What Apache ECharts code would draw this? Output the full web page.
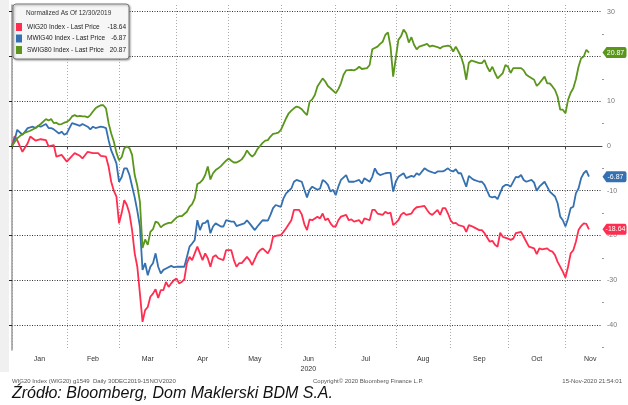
<!DOCTYPE html>
<html>
<head>
<meta charset="utf-8">
<script src="https://cdn.jsdelivr.net/npm/echarts@6/dist/echarts.min.js"></script>
<style>
  html, body { margin: 0; padding: 0; background: #fff; }
  #chart { width: 628px; height: 405px; }
</style>
</head>
<body>
<div id="chart"></div>
<script>
// x = trading day counted from 30 Dec 2019, y = % change (normalized at 12/30/2019)
const dayMax = 226;
const monthNames = ['Jan', 'Feb', 'Mar', 'Apr', 'May', 'Jun', 'Jul', 'Aug', 'Sep', 'Oct', 'Nov'];
const monthMid = [10.5, 31, 52, 73, 93, 113.5, 135.5, 157.5, 179, 201, 221.5];
const monthEdge = [0, 21, 41, 63, 83, 103, 124, 147, 168, 190, 212];
const yTicks = [-40, -30, -20, -10, 0, 10, 20, 30];
const yMinor = [-45, -35, -25, -15, -5, 5, 15, 25];

const names = ['WIG20 Index - Last Price', 'MWIG40 Index - Last Price', 'SWIG80 Index - Last Price'];
const lastPrices = [-18.64, -6.87, 20.87];
const colors = ['#ff2d4f', '#3570b0', '#5b961c'];

const wig20 = [[0,0],[1,2.2],[2,1.3],[4,-1.3],[6,0.6],[7,2.1],[9,1.2],[11,1.5],[13,1.3],[14,-0.1],[16,0.2],[17,-2.4],[19,-2.0],[21,-3.5],[24,-1.6],[26,-2.2],[27,-2.8],[29,-1.3],[31,-1.6],[33,-1.6],[34,-2.2],[36,-2.4],[37,-4.6],[38,-8.0],[39,-10.0],[40,-11.3],[41,-17.3],[42,-15.0],[43,-12.1],[44,-13.2],[45,-15.1],[46,-18.8],[47,-24.0],[48,-27.0],[49,-33.0],[50,-39.3],[51,-36.7],[52,-36.0],[53,-33.7],[54,-33.0],[55,-32.0],[56,-34.0],[57,-32.2],[58,-32.2],[59,-30.4],[60,-31.5],[61,-30.7],[62,-30.0],[63,-29.6],[64,-30.7],[65,-30.4],[66,-29.8],[67,-26.2],[68,-24.8],[69,-25.5],[70,-24.0],[71,-22.5],[72,-24.0],[73,-25.5],[74,-24.0],[75,-25.1],[76,-27.0],[77,-24.8],[78,-24.4],[79,-25.1],[81,-25.5],[82,-23.3],[84,-23.3],[85,-25.5],[86,-27.0],[87,-26.2],[88,-26.2],[90,-24.8],[91,-25.5],[92,-26.6],[94,-24.0],[95,-23.3],[96,-22.9],[98,-24.0],[99,-22.9],[100,-20.3],[101,-20.1],[103,-19.9],[104,-19.2],[105,-18.4],[107,-16.6],[108,-14.3],[109,-14.3],[110,-14.3],[111,-15.3],[112,-17.5],[113,-18.8],[114,-16.4],[115,-16.6],[117,-15.8],[118,-16.2],[119,-15.1],[120,-16.6],[121,-16.2],[122,-17.3],[123,-18.0],[124,-18.0],[125,-16.6],[126,-15.8],[128,-15.4],[129,-16.6],[130,-16.4],[131,-16.9],[133,-16.6],[134,-17.4],[135,-16.2],[137,-16.6],[138,-14.3],[139,-14.3],[140,-15.1],[142,-15.4],[143,-14.7],[144,-15.1],[145,-14.9],[146,-17.7],[147,-17.2],[148,-16.6],[149,-15.4],[150,-14.9],[151,-15.4],[153,-15.1],[154,-14.2],[155,-13.7],[156,-13.6],[158,-13.4],[159,-14.3],[160,-15.1],[161,-15.4],[163,-14.3],[164,-15.4],[165,-13.9],[166,-13.9],[167,-15.1],[168,-16.6],[169,-17.3],[170,-17.2],[171,-17.7],[173,-18.0],[174,-19.2],[175,-17.7],[176,-17.9],[177,-18.2],[179,-18.8],[180,-18.8],[181,-19.5],[183,-21.4],[184,-21.2],[185,-22.1],[186,-22.5],[187,-19.4],[188,-20.3],[190,-20.7],[191,-21.0],[192,-20.7],[193,-19.5],[195,-19.2],[196,-20.3],[197,-21.4],[198,-22.5],[200,-22.9],[201,-24.2],[202,-22.9],[203,-23.1],[205,-22.9],[206,-23.4],[207,-23.6],[208,-24.4],[209,-25.9],[211,-28.1],[212,-29.4],[213,-27.0],[214,-24.0],[215,-23.3],[216,-21.4],[217,-18.8],[218,-17.9],[219,-17.3],[220,-17.4],[221,-18.64]];

const mwig40 = [[0,0],[1,1.3],[2,3.6],[4,2.5],[5,3.2],[6,4.0],[8,4.3],[9,4.0],[10,4.5],[11,4.3],[13,4.9],[14,4.0],[15,4.0],[16,3.7],[18,2.8],[19,3.2],[20,2.5],[21,2.8],[22,4.0],[23,5.1],[25,4.7],[26,4.5],[27,4.9],[29,4.3],[30,3.7],[31,4.3],[32,4.0],[34,4.3],[35,4.2],[36,4.0],[37,1.3],[38,-1.0],[39,-2.4],[40,-3.9],[41,-8.0],[42,-7.0],[43,-5.0],[44,-5.0],[45,-6.5],[46,-9.0],[47,-11.5],[48,-14.5],[49,-18.0],[50,-27.7],[51,-26.2],[52,-28.9],[53,-27.0],[54,-26.2],[55,-24.0],[56,-27.0],[57,-28.5],[58,-27.7],[59,-27.4],[61,-26.8],[62,-27.1],[63,-27.0],[64,-27.0],[66,-27.0],[67,-24.8],[68,-22.5],[69,-21.8],[70,-21.0],[71,-16.6],[72,-18.8],[73,-17.3],[74,-17.2],[75,-16.6],[76,-19.5],[77,-18.0],[78,-17.3],[80,-18.0],[81,-18.0],[82,-16.6],[84,-16.9],[85,-16.9],[86,-17.9],[87,-17.7],[89,-17.3],[90,-16.6],[91,-17.3],[93,-18.8],[94,-18.0],[95,-17.3],[96,-16.6],[98,-16.7],[99,-15.4],[100,-13.9],[101,-13.2],[103,-13.6],[104,-11.7],[105,-10.6],[107,-9.5],[108,-8.0],[109,-7.6],[110,-7.8],[111,-8.0],[112,-9.8],[113,-11.5],[114,-9.8],[115,-9.1],[117,-9.8],[118,-9.5],[119,-7.6],[120,-8.0],[121,-8.7],[122,-10.2],[123,-9.8],[124,-11.0],[125,-9.1],[126,-7.6],[128,-6.5],[129,-8.0],[130,-8.0],[131,-8.0],[133,-7.6],[134,-8.4],[135,-7.2],[137,-8.0],[138,-6.9],[139,-5.0],[140,-6.1],[141,-6.5],[143,-6.1],[144,-6.0],[145,-6.0],[146,-10.2],[147,-8.0],[148,-6.9],[149,-6.5],[150,-6.1],[151,-7.2],[153,-6.7],[154,-6.9],[155,-6.1],[156,-6.5],[158,-5.0],[159,-5.4],[160,-5.7],[162,-6.1],[163,-5.7],[165,-5.7],[166,-5.4],[167,-5.0],[168,-5.5],[169,-5.7],[170,-5.2],[171,-6.1],[172,-6.1],[173,-7.6],[174,-9.1],[175,-6.7],[176,-7.2],[177,-7.6],[179,-8.0],[180,-8.0],[181,-8.7],[183,-11.3],[184,-11.5],[185,-11.3],[186,-11.9],[188,-9.1],[189,-8.7],[190,-8.7],[191,-9.1],[193,-6.9],[194,-7.0],[195,-6.5],[196,-7.6],[197,-8.0],[199,-7.6],[200,-8.2],[201,-10.0],[202,-9.1],[204,-8.0],[205,-9.1],[206,-10.2],[208,-11.3],[209,-12.8],[210,-15.8],[211,-16.6],[212,-18.0],[213,-16.2],[214,-13.9],[215,-13.6],[216,-10.6],[217,-9.5],[218,-7.2],[219,-6.1],[220,-5.5],[221,-6.87]];

const swig80 = [[0,0],[2,1.7],[3,2.2],[5,3.0],[7,3.4],[9,4.0],[11,4.9],[13,6.0],[14,5.7],[15,6.0],[16,5.1],[17,5.2],[18,4.8],[19,4.9],[20,5.2],[21,5.4],[22,5.8],[23,6.6],[24,6.9],[25,6.6],[26,6.7],[27,6.6],[28,6.6],[29,6.4],[30,6.9],[31,7.7],[32,8.4],[33,8.8],[34,9.1],[35,9.1],[36,8.4],[37,5.1],[38,2.8],[39,1.0],[40,-1.5],[41,-3.2],[42,-2.5],[43,-0.5],[44,-0.1],[45,-0.5],[46,-2.0],[47,-6.5],[48,-8.9],[49,-12.5],[50,-22.8],[51,-20.9],[52,-22.1],[53,-19.2],[54,-18.6],[55,-16.9],[56,-17.2],[57,-18.2],[58,-17.7],[59,-17.4],[60,-17.2],[61,-17.2],[62,-16.6],[63,-16.0],[64,-15.7],[65,-15.7],[66,-15.2],[67,-14.7],[68,-13.6],[69,-13.0],[70,-11.7],[71,-8.5],[72,-8.2],[73,-7.6],[74,-6.5],[75,-4.6],[76,-7.5],[77,-6.1],[78,-5.4],[79,-5.0],[80,-4.5],[81,-3.9],[82,-3.3],[83,-2.8],[84,-3.3],[85,-3.7],[86,-3.7],[87,-3.4],[88,-3.0],[89,-2.2],[90,-1.0],[91,-1.8],[92,-2.4],[93,-1.8],[94,-0.7],[95,0.0],[96,0.7],[97,1.2],[98,1.3],[99,2.1],[100,2.7],[101,2.8],[102,3.0],[103,3.6],[104,4.9],[105,6.2],[106,7.3],[107,7.9],[108,8.4],[109,8.8],[110,8.6],[111,8.2],[112,7.5],[113,6.9],[114,9.9],[115,10.4],[116,11.4],[117,13.3],[119,15.1],[120,14.4],[121,13.4],[122,12.9],[124,11.8],[125,12.7],[126,14.0],[127,15.9],[128,16.9],[130,17.0],[131,16.9],[132,17.2],[133,17.7],[134,17.2],[136,17.4],[137,18.1],[138,21.6],[140,22.2],[141,22.8],[142,23.3],[143,24.8],[144,25.4],[145,22.2],[146,15.5],[147,19.6],[148,23.7],[149,24.5],[150,26.0],[151,25.2],[152,23.1],[153,24.3],[154,22.6],[155,21.6],[156,22.2],[158,22.6],[159,22.8],[160,22.2],[161,22.4],[163,22.1],[164,21.8],[165,22.2],[167,22.4],[168,22.2],[169,21.1],[170,22.2],[171,21.1],[172,20.0],[173,18.1],[174,14.8],[175,18.6],[176,19.1],[177,18.9],[179,18.5],[180,18.5],[181,19.2],[182,17.7],[183,16.6],[184,17.7],[185,16.3],[186,15.1],[188,16.3],[189,18.1],[190,17.7],[191,16.3],[192,17.4],[193,17.4],[195,17.4],[196,16.9],[197,15.9],[198,15.5],[200,14.8],[201,13.4],[202,14.0],[204,15.5],[205,14.0],[206,14.0],[207,13.3],[208,12.5],[209,11.0],[210,8.1],[211,8.1],[212,7.3],[213,10.3],[214,11.9],[215,12.9],[216,14.9],[217,17.7],[218,19.6],[219,20.0],[220,21.5],[221,20.87]];

const seriesData = [wig20, mwig40, swig80];
const narrow = "'Liberation Sans Narrow', 'Liberation Sans', sans-serif";
const tagPath = 'path://M0,5 L4,0 L22,0 Q24,0 24,2 L24,8 Q24,10 22,10 L4,10 Z';

const chart = echarts.init(document.getElementById('chart'));

const option = {
    animation: false,
    backgroundColor: '#fff',
    textStyle: { fontFamily: narrow },
    graphic: [
        { type: 'rect', left: 0, top: 0, shape: { width: 9, height: 372 }, style: { fill: '#f0f0f0' }, z: -1 }
    ],
    title: [
        {
            text: 'Normalized As Of 12/30/2019',
            left: 26, top: 10, padding: 0, z: 10,
            textStyle: { fontSize: 6.5, fontWeight: 'normal', color: '#333', fontFamily: narrow }
        },
        {
            text: 'WIG20 Index (WIG20) g1549  Daily 30DEC2019-15NOV2020',
            left: 12, top: 378, padding: 0,
            textStyle: { fontSize: 6, fontWeight: 'normal', color: '#555', fontFamily: narrow }
        },
        {
            text: 'Copyright\u00a9 2020 Bloomberg Finance L.P.',
            left: 313, top: 378, padding: 0,
            textStyle: { fontSize: 6, fontWeight: 'normal', color: '#555', fontFamily: narrow }
        },
        {
            text: '15-Nov-2020 21:54:01',
            right: 6, top: 378, padding: 0,
            textStyle: { fontSize: 6, fontWeight: 'normal', color: '#555', fontFamily: narrow }
        },
        {
            text: 'Źródło: Bloomberg, Dom Maklerski BDM S.A.',
            left: 12, top: 386, padding: 0,
            textStyle: { fontSize: 16, fontWeight: 'normal', fontStyle: 'italic', color: '#111', fontFamily: "'Liberation Sans', Arial, sans-serif" }
        }
    ],
    legend: {
        orient: 'vertical',
        left: 13, top: 4,
        padding: [19, 3, 5, 3],
        itemWidth: 6, itemHeight: 8, itemGap: 3.5,
        icon: 'rect',
        backgroundColor: '#f6f6f6',
        borderColor: '#7a7a7a', borderWidth: 1, borderRadius: 3,
        shadowColor: 'rgba(0,0,0,0.35)', shadowBlur: 2, shadowOffsetX: 1, shadowOffsetY: 1,
        data: names,
        selectedMode: false,
        formatter: function (name) {
            const i = names.indexOf(name);
            return '{n|' + name + '}{v|' + lastPrices[i].toFixed(2) + '}';
        },
        textStyle: {
            color: '#222', fontFamily: narrow, fontSize: 6.5, lineHeight: 8,
            rich: {
                n: { width: 79, fontSize: 6.5, lineHeight: 8, fontFamily: narrow, color: '#222' },
                v: { width: 20, align: 'right', fontSize: 6.5, lineHeight: 8, fontFamily: narrow, color: '#222' }
            }
        }
    },
    grid: { left: 12, right: 26, top: 5, bottom: 55 },
    xAxis: {
        type: 'value',
        min: 0, max: dayMax,
        axisLine: { show: true, lineStyle: { color: '#444', width: 1 } },
        axisTick: { show: true, customValues: monthEdge, length: 3, lineStyle: { color: '#444' } },
        splitLine: { show: true, lineStyle: { color: '#aaa', type: [1, 2], width: 1 } },
        axisLabel: {
            customValues: monthMid,
            fontSize: 7, color: '#333', margin: 4, lineHeight: 10, fontFamily: narrow,
            formatter: function (v) {
                const i = monthMid.indexOf(v);
                const m = monthNames[i];
                return m === 'Jun' ? 'Jun\n2020' : m;
            }
        }
    },
    yAxis: [
        {
            type: 'value',
            position: 'right',
            min: -45.6, max: 31.5,
            axisLine: { show: true, lineStyle: { color: '#999', width: 1.5 } },
            axisTick: { show: true, inside: true, customValues: yTicks, length: 3, lineStyle: { color: '#222' } },
            splitLine: { show: true, lineStyle: { color: '#333', type: [1, 1.5], width: 1 } },
            axisLabel: { customValues: yTicks, fontSize: 7, color: '#777', margin: 5, fontFamily: narrow }
        },
        {
            type: 'value',
            position: 'right',
            min: -45.6, max: 31.5,
            axisLine: { show: false },
            axisTick: { show: true, customValues: yMinor, length: 2, lineStyle: { color: '#999' } },
            splitLine: { show: false },
            axisLabel: { show: false }
        }
    ],
    series: [2, 1, 0].map(function (i) {
        return {
            name: names[i],
            type: 'line',
            data: seriesData[i],
            showSymbol: false,
            symbol: 'none',
            z: 3 + i,
            lineStyle: { color: colors[i], width: 1.8 },
            itemStyle: { color: colors[i] },
            markPoint: {
                silent: true,
                symbol: tagPath,
                symbolSize: [24, 11],
                symbolOffset: [12.5, 0],
                symbolKeepAspect: false,
                itemStyle: { color: colors[i] },
                label: {
                    show: true, position: 'inside', offset: [1, 0],
                    color: '#fff', fontSize: 7, fontFamily: narrow,
                    formatter: lastPrices[i].toFixed(2)
                },
                data: [{ coord: [dayMax, lastPrices[i]] }]
            }
        };
    })
};

chart.setOption(option);
</script>
</body>
</html>
